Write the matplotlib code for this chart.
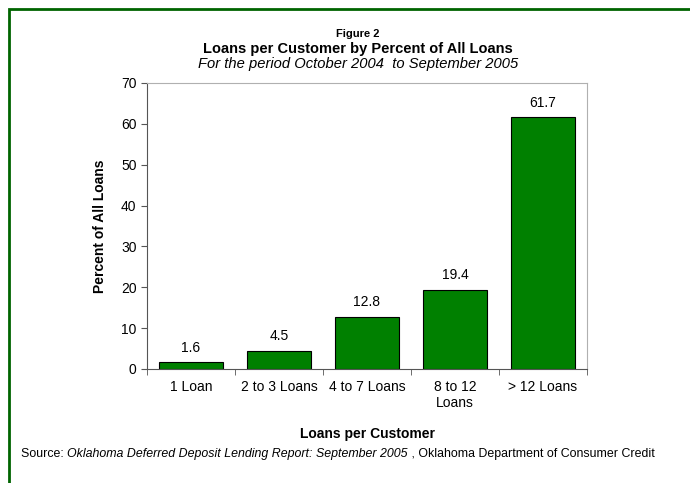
import matplotlib
matplotlib.use("Agg")
import matplotlib.pyplot as plt
from matplotlib.patches import Rectangle

plt.rcParams["font.family"] = ["Liberation Sans", "DejaVu Sans"]

categories = ["1 Loan", "2 to 3 Loans", "4 to 7 Loans", "8 to 12\nLoans", "> 12 Loans"]
percents = [1.6, 4.5, 12.8, 19.4, 61.7]
y_ticks = [0, 10, 20, 30, 40, 50, 60, 70]

fig = plt.figure(figsize=(6.9, 4.83), dpi=100)

# green frame around the whole chart (left and top edges visible)
fig.patches.append(Rectangle((9 / 690, -0.1), 1.2, (483 - 9) / 483 + 0.1,
                             transform=fig.transFigure, fill=False,
                             edgecolor="#006400", linewidth=2))

ax = fig.add_axes([147 / 690, 1 - 369 / 483, 440 / 690, 286 / 483])
x = list(range(len(categories)))
ax.bar(x, percents, width=0.72, color="#008000", edgecolor="black", linewidth=0.8)

for xi, v in zip(x, percents):
    ax.text(xi, v + 1.8, f"{v}", ha="center", va="bottom", fontsize=10)

ax.set_xlim(-0.5, len(categories) - 0.5)
ax.set_ylim(0, 70)
ax.set_yticks(y_ticks)
ax.tick_params(axis="y", labelsize=10, length=4, color="#555555")
ax.set_xticks(x)
ax.set_xticklabels(categories, fontsize=10)
ax.tick_params(axis="x", length=0, pad=8)
ax.set_xticks([i + 0.5 for i in range(-1, len(categories))], minor=True)
ax.tick_params(axis="x", which="minor", length=4, color="#555555")

for side in ["top", "right"]:
    ax.spines[side].set_color("#b0b0b0")
for side in ["left", "bottom"]:
    ax.spines[side].set_color("#555555")

ax.set_ylabel("Percent of All Loans", fontsize=10, fontweight="bold", labelpad=10)
ax.set_xlabel("Loans per Customer", fontsize=10, fontweight="bold", labelpad=12)

cx = 358 / 690
fig.text(cx, 1 - 34 / 483, "Figure 2", ha="center", va="center",
         fontsize=8, fontweight="bold")
fig.text(cx, 1 - 49 / 483, "Loans per Customer by Percent of All Loans",
         ha="center", va="center", fontsize=10.5, fontweight="bold")
fig.text(cx, 1 - 64 / 483, "For the period October 2004  to September 2005",
         ha="center", va="center", fontsize=10.6, style="italic")

# source line: three pieces placed one after the other
renderer = fig.canvas.get_renderer()
sy = 1 - 454 / 483
xpos = 21
pieces = [("Source: ", "normal"),
          ("Oklahoma Deferred Deposit Lending Report: September 2005", "italic"),
          (" , Oklahoma Department of Consumer Credit", "normal")]
for txt, st in pieces:
    t = fig.text(xpos / 690, sy, txt, ha="left", va="center", fontsize=8.9, style=st)
    xpos += t.get_window_extent(renderer).width

fig.savefig("out.png", dpi=100)
